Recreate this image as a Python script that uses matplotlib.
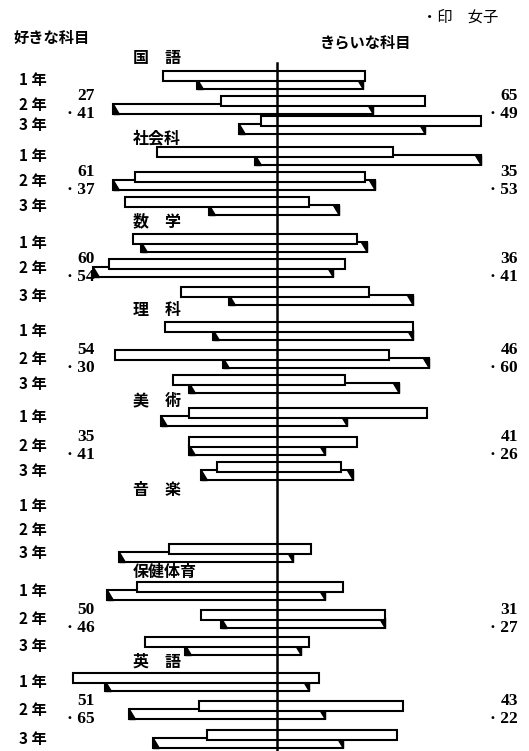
import numpy as np
import matplotlib
matplotlib.use("Agg")
import matplotlib.pyplot as plt
from matplotlib.patches import Rectangle, Polygon

plt.rcParams['font.family'] = ['Noto Sans CJK JP', 'DejaVu Sans']

subjects = ["国　語", "社会科", "数　学", "理　科", "美　術", "音　楽", "保健体育", "英　語"]
years    = ["1 年", "2 年", "3 年"]
nan = np.nan

# % of students: left = 好きな科目, right = きらいな科目 (m = 男子, f = 女子)
like_m = [[28.5, 14.0, 4.0], [30.0, 35.5, 38.0], [36.0, 42.0, 24.0], [28.0, 40.5, 26.0],
          [22.0, 22.0, 15.0], [nan, nan, 27.0], [35.0, 19.0, 33.0], [51.0, 19.5, 17.5]]
like_f = [[20.0, 41.0, 9.5], [5.5, 41.0, 17.0], [34.0, 46.0, 12.0], [16.0, 13.5, 22.0],
          [29.0, 22.0, 19.0], [nan, nan, 39.5], [42.5, 14.0, 23.0], [43.0, 37.0, 31.0]]
dis_m  = [[22.0, 37.0, 51.0], [29.0, 22.0, 8.0], [20.0, 17.0, 23.0], [34.0, 28.0, 17.0],
          [37.5, 20.0, 16.0], [nan, nan, 8.5], [16.5, 27.0, 8.0], [10.5, 31.5, 30.0]]
dis_f  = [[21.5, 24.0, 37.0], [51.0, 24.5, 15.5], [22.5, 14.0, 34.0], [34.0, 38.0, 30.5],
          [17.5, 12.0, 19.0], [nan, nan, 4.0], [12.0, 27.0, 6.0], [8.0, 12.0, 16.5]]

# side totals (男子 / ・女子)
left_m  = ["27", "61", "60", "54", "35", "", "50", "51"]
left_f  = ["41", "37", "54", "30", "41", "", "46", "65"]
right_m = ["65", "35", "36", "46", "41", "", "31", "43"]
right_f = ["49", "53", "41", "60", "26", "", "27", "22"]

# layout: vertical position of each year row and subject title (figure pixels)
row_y = [[76, 101, 121], [152, 177, 202], [239, 264, 292], [327, 355, 380],
         [413, 442, 467], [502, 526, 549], [587, 615, 642], [678, 706, 735]]
title_y = [58, 138, 221, 310, 400, 490, 572, 662]

fig = plt.figure(figsize=(5.29, 7.51), dpi=100)
ax = fig.add_axes([0, 0, 1, 1])
ax.set_xlim(-69.25, 63)
ax.set_ylim(751, 0)
ax.axis('off')

h, off, tri = 10.5, 8, 1.6

ax.plot([0, 0], [63, 751], color='black', lw=1.8, zorder=5)

for s, subj in enumerate(subjects):
    ax.text(-36, title_y[s], subj, fontsize=11.5, fontweight='bold', va='center', ha='left')
    for r, yr in enumerate(years):
        ym = row_y[s][r]
        ax.text(-64.5, ym + 4, yr, fontsize=11, fontweight='bold', va='center', ha='left')
        lf, rf = like_f[s][r], dis_f[s][r]
        if not np.isnan(lf):
            yf = ym + off
            ax.add_patch(Rectangle((-lf, yf - h / 2), lf + rf, h, facecolor='white',
                                   edgecolor='black', lw=1.5, zorder=2))
            ax.add_patch(Polygon([(-lf, yf - h / 2), (-lf, yf + h / 2), (-lf + tri, yf + h / 2)],
                                 closed=True, color='black', zorder=2.5))
            ax.add_patch(Polygon([(rf - tri, yf - h / 2), (rf, yf - h / 2), (rf, yf + h / 2)],
                                 closed=True, color='black', zorder=2.5))
        lm, rm = like_m[s][r], dis_m[s][r]
        if not np.isnan(lm):
            ax.add_patch(Rectangle((-lm, ym - h / 2), lm + rm, h, facecolor='white',
                                   edgecolor='black', lw=1.5, zorder=3))
    yc = row_y[s][1] + 4
    num = dict(fontsize=12.5, family='Liberation Serif', fontweight='bold', ha='right', va='center')
    if left_m[s]:
        ax.text(-45.5, yc - 9, left_m[s], **num)
        ax.text(-45.5, yc + 9, "\u00b7 " + left_f[s], **num)
        ax.text(60.25, yc - 9, right_m[s], **num)
        ax.text(60.25, yc + 9, "\u00b7 " + right_f[s], **num)

ax.text(-66, 38, "好きな科目", fontsize=11, fontweight='bold', va='center', ha='left')
ax.text(10.75, 42, "きらいな科目", fontsize=11, fontweight='bold', va='center', ha='left')
ax.text(36.25, 17, "・印　女子", fontsize=11, va='center', ha='left')

fig.savefig("out.png", dpi=100, facecolor='white')
